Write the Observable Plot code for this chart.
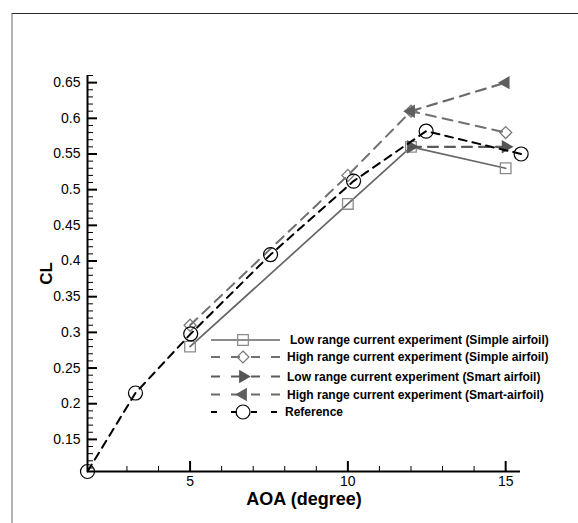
<!DOCTYPE html>
<html>
<head>
<meta charset="utf-8">
<script src="https://cdn.jsdelivr.net/npm/d3@7"></script>
<script src="https://cdn.jsdelivr.net/npm/@observablehq/plot@0.6"></script>
<style>
  html, body { margin: 0; padding: 0; background: #fff; overflow: hidden; }
  #wrap { position: relative; width: 578px; height: 523px; font-family: "Liberation Sans", Arial, sans-serif; }
  #frame { position: absolute; left: 11px; top: 13px; width: 567px; height: 510px;
           border-top: 1px solid #2a2a2a; border-left: 2px solid #b4b4b4; pointer-events: none; }
  #legend { position: absolute; left: 0; top: 0; pointer-events: none; }
</style>
</head>
<body>
<div id="wrap"><div id="frame"></div></div>
<script>
// Lift coefficient vs. angle of attack
const aoaLowSimple = [5, 10, 12, 15];
const clLowSimple = [0.28, 0.48, 0.56, 0.53];

const aoaHighSimple = [5, 10, 12, 15];
const clHighSimple = [0.31, 0.52, 0.61, 0.58];

const aoaLowSmart = [12, 15];
const clLowSmart = [0.56, 0.56];

const aoaHighSmart = [12, 15];
const clHighSmart = [0.61, 0.65];

const aoaRef = [1.75, 3.27, 5.02, 7.55, 10.18, 12.48, 15.49];
const clRef = [0.105, 0.215, 0.298, 0.409, 0.512, 0.582, 0.55];

const seriesNames = [
  "Low range current experiment (Simple airfoil)",
  "High range current experiment (Simple airfoil)",
  "Low range current experiment (Smart airfoil)",
  "High range current experiment (Smart-airfoil)",
  "Reference"
];

const xMajorTicks = [5, 10, 15];
const xMinorTicks = [3, 4, 6, 7, 8, 9, 11, 12, 13, 14];
const yMajorTicks = [0.15, 0.2, 0.25, 0.3, 0.35, 0.4, 0.45, 0.5, 0.55, 0.6, 0.65];
const yMinorTicks = d3.range(11, 67).filter(i => i % 5 !== 0).map(i => i / 100);

const xDomain = [1.75, 15.47];
const yDomain = [0.105, 0.66];

const W = 578, H = 523;
const margin = {left: 87, right: 58, top: 75, bottom: 52};

const rows = (aoa, cl) => aoa.map((a, i) => ({aoa: a, cl: cl[i]}));
const lowSimple = rows(aoaLowSimple, clLowSimple);
const highSimple = rows(aoaHighSimple, clHighSimple);
const lowSmart = rows(aoaLowSmart, clLowSmart);
const highSmart = rows(aoaHighSmart, clHighSmart);
const reference = rows(aoaRef, clRef);

// inward ticks: zero-length rules on the axis, stretched inward by a negative inset
const xTicks = (ticks, size, sw) =>
  Plot.ruleX(ticks, {x: d => d, y1: yDomain[0], y2: yDomain[0], insetTop: -size, stroke: "black", strokeWidth: sw});
const yTicks = (ticks, size, sw) =>
  Plot.ruleY(ticks, {y: d => d, x1: xDomain[0], x2: xDomain[0], insetRight: -size, stroke: "black", strokeWidth: sw});

const styles = {
  lowSimple:  {line: "#666", dash: null,   marker: "#8a8a8a"},
  highSimple: {line: "#707070", dash: "10,7", marker: "#7a7a7a"},
  lowSmart:   {line: "#5a5a5a", dash: "10,7", marker: "#555"},
  highSmart:  {line: "#6a6a6a", dash: "10,7", marker: "#5e5e5e"},
  reference:  {line: "#000", dash: "8,6", marker: "#000"}
};

const chart = Plot.plot({
  width: W,
  height: H,
  marginLeft: margin.left,
  marginRight: margin.right,
  marginTop: margin.top,
  marginBottom: margin.bottom,
  style: {fontFamily: "Liberation Sans, Arial, sans-serif"},
  x: {domain: xDomain},
  y: {domain: yDomain},
  marks: [
    // axis lines
    Plot.ruleX([xDomain[0]], {stroke: "black", strokeWidth: 2}),
    Plot.ruleY([yDomain[0]], {stroke: "black", strokeWidth: 2}),
    // ticks
    xTicks(xMajorTicks, 10, 2),
    xTicks(xMinorTicks, 5, 1),
    yTicks(yMajorTicks, 10, 2),
    yTicks(yMinorTicks, 6, 1),
    // tick labels
    Plot.axisX({ticks: xMajorTicks, tickSize: 0, tickPadding: 5, fontSize: 14, label: null, tickFormat: d => String(d)}),
    Plot.axisY({ticks: yMajorTicks, tickSize: 0, tickPadding: 7, fontSize: 14, label: null, tickFormat: d => String(d)}),
    // axis titles
    Plot.text(["AOA (degree)"], {frameAnchor: "bottom", lineAnchor: "middle", dy: 28, fontSize: 18, fontWeight: "bold", fill: "black"}),
    Plot.text(["CL"], {frameAnchor: "left", textAnchor: "middle", lineAnchor: "middle", dx: -41, rotate: -90, fontSize: 17, fontWeight: "bold", fill: "black"}),
    // series
    Plot.line(lowSimple, {x: "aoa", y: "cl", stroke: styles.lowSimple.line, strokeWidth: 1.7}),
    Plot.dot(lowSimple, {x: "aoa", y: "cl", symbol: "square", r: 6, stroke: styles.lowSimple.marker, fill: "none", strokeWidth: 1.3}),
    Plot.line(highSimple, {x: "aoa", y: "cl", stroke: styles.highSimple.line, strokeWidth: 2, strokeDasharray: styles.highSimple.dash}),
    Plot.dot(highSimple, {x: "aoa", y: "cl", symbol: "diamond2", r: 5.4, stroke: styles.highSimple.marker, fill: "none", strokeWidth: 1.3}),
    Plot.line(lowSmart, {x: "aoa", y: "cl", stroke: styles.lowSmart.line, strokeWidth: 2.2, strokeDasharray: styles.lowSmart.dash}),
    Plot.dot(lowSmart, {x: "aoa", y: "cl", symbol: "triangle", rotate: 90, r: 5, fill: styles.lowSmart.marker, stroke: "none"}),
    Plot.line(highSmart, {x: "aoa", y: "cl", stroke: styles.highSmart.line, strokeWidth: 2.2, strokeDasharray: styles.highSmart.dash}),
    Plot.dot(highSmart, {x: "aoa", y: "cl", symbol: "triangle", rotate: -90, r: 5, fill: styles.highSmart.marker, stroke: "none"}),
    Plot.line(reference, {x: "aoa", y: "cl", stroke: styles.reference.line, strokeWidth: 2, strokeDasharray: styles.reference.dash}),
    Plot.dot(reference, {x: "aoa", y: "cl", symbol: "circle", r: 7, stroke: styles.reference.marker, fill: "none", strokeWidth: 1.2})
  ]
});

const wrap = document.getElementById("wrap");
wrap.insertBefore(chart, wrap.firstChild);

// legend: line swatch with marker, then label
const legendEntries = [
  {name: seriesNames[0], style: styles.lowSimple, sw: 1.7, dash: null, symbol: d3.symbolSquare, size: Math.PI * 36, rotate: 0, fill: "none"},
  {name: seriesNames[1], style: styles.highSimple, sw: 2, dash: "9,11", symbol: d3.symbolDiamond2, size: Math.PI * 29, rotate: 0, fill: "none"},
  {name: seriesNames[2], style: styles.lowSmart, sw: 2.2, dash: "9,11", symbol: d3.symbolTriangle, size: Math.PI * 25, rotate: 90, fill: "solid"},
  {name: seriesNames[3], style: styles.highSmart, sw: 2.2, dash: "9,11", symbol: d3.symbolTriangle, size: Math.PI * 25, rotate: -90, fill: "solid"},
  {name: seriesNames[4], style: styles.reference, sw: 2, dash: "6,14", symbol: d3.symbolCircle, size: Math.PI * 49, rotate: 0, fill: "none"}
];
const legendY = [340, 357, 376.5, 394.5, 412];
const legend = d3.select(wrap).append("svg")
  .attr("id", "legend").attr("width", W).attr("height", H);
legendEntries.forEach((e, i) => {
  const g = legend.append("g").attr("transform", `translate(0,${legendY[i]})`);
  g.append("line").attr("x1", 211).attr("x2", 280).attr("y1", 0).attr("y2", 0)
    .attr("stroke", e.style.line).attr("stroke-width", e.sw)
    .attr("stroke-dasharray", e.dash);
  g.append("path").attr("d", d3.symbol(e.symbol, e.size)())
    .attr("transform", `translate(243,0) rotate(${e.rotate})`)
    .attr("fill", e.fill === "solid" ? e.style.marker : "none")
    .attr("stroke", e.fill === "solid" ? "none" : e.style.marker)
    .attr("stroke-width", 1.2);
  g.append("text").attr("x", i === 0 ? 290 : (i === 4 ? 285 : 287)).attr("y", 0).attr("dy", "0.35em")
    .attr("font-family", "Liberation Sans, Arial, sans-serif")
    .attr("font-size", 12).attr("font-weight", "bold").attr("fill", "#000")
    .text(e.name);
});
</script>
</body>
</html>
